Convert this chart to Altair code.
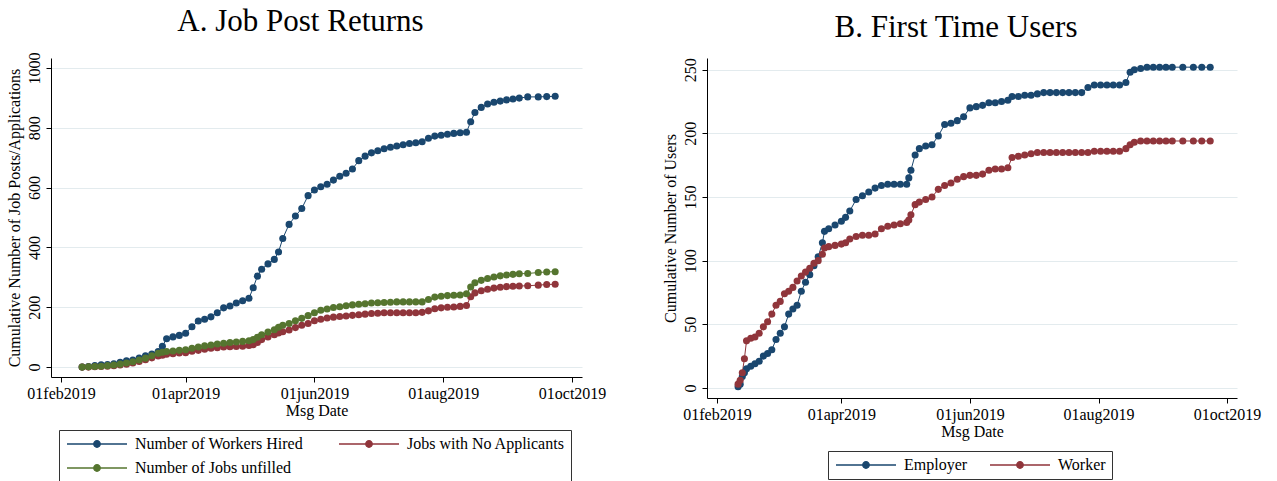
import altair as alt
import pandas as pd

# ---------------- Panel A data ----------------
left_dates = [
    "2019-02-11", "2019-02-14", "2019-02-17", "2019-02-20", "2019-02-23", "2019-02-26",
    "2019-03-01", "2019-03-04", "2019-03-07", "2019-03-10", "2019-03-13", "2019-03-16",
    "2019-03-19", "2019-03-21", "2019-03-23", "2019-03-26", "2019-03-29", "2019-04-01",
    "2019-04-04", "2019-04-07", "2019-04-10", "2019-04-13", "2019-04-16", "2019-04-19",
    "2019-04-22", "2019-04-25", "2019-04-28", "2019-05-01", "2019-05-03", "2019-05-05",
    "2019-05-07", "2019-05-10", "2019-05-13", "2019-05-15", "2019-05-17", "2019-05-20",
    "2019-05-23", "2019-05-26", "2019-05-29", "2019-06-01", "2019-06-04", "2019-06-07",
    "2019-06-10", "2019-06-13", "2019-06-16", "2019-06-19", "2019-06-22", "2019-06-25",
    "2019-06-28", "2019-07-01", "2019-07-04", "2019-07-07", "2019-07-10", "2019-07-13",
    "2019-07-16", "2019-07-19", "2019-07-22", "2019-07-25", "2019-07-28", "2019-07-31",
    "2019-08-03", "2019-08-06", "2019-08-09", "2019-08-12", "2019-08-14", "2019-08-16",
    "2019-08-19", "2019-08-22", "2019-08-25", "2019-08-28", "2019-08-31", "2019-09-03",
    "2019-09-06", "2019-09-10", "2019-09-15", "2019-09-19", "2019-09-23",
]
workers_hired = [
    0, 2, 5, 8, 9, 11,
    16, 21, 24, 30, 38, 44,
    52, 70, 95, 101, 106, 113,
    135, 154, 160, 168, 182, 198,
    204, 214, 222, 230, 265, 304,
    327, 345, 360, 385, 430, 477,
    505, 530, 573, 592, 603, 611,
    625, 638, 648, 662, 690, 705,
    716, 723, 730, 735, 739, 743,
    747, 750, 753, 765, 772, 775,
    778, 781, 783, 785, 820, 851,
    868, 879, 885, 889, 893, 896,
    899, 903, 903, 904, 905,
]
jobs_no_applicants = [
    0, 0, 1, 2, 3, 5,
    7, 10, 14, 19, 25, 31,
    37, 40, 43, 45, 47, 48,
    53, 56, 60, 63, 65, 67,
    68, 69, 70, 72, 75, 82,
    92, 101, 108, 114, 118, 124,
    132, 140, 146, 155, 160, 164,
    167, 169, 171, 173, 175, 177,
    179, 180, 182, 182, 182, 182,
    182, 182, 183, 188, 195, 198,
    200, 201, 203, 206, 235, 248,
    255, 260, 264, 267, 269, 270,
    271, 272, 274, 276, 277,
]
jobs_unfilled = [
    0, 1, 2, 3, 5, 7,
    10, 14, 18, 24, 30, 38,
    46, 50, 52, 54, 56, 58,
    63, 67, 71, 74, 77, 80,
    82, 84, 86, 88, 92, 100,
    108, 117, 125, 133, 140, 146,
    155, 163, 172, 182, 190, 194,
    199, 202, 205, 208, 210, 212,
    214, 215, 216, 217, 218, 218,
    218, 218, 218, 226, 234, 237,
    239, 240, 241, 245, 268, 282,
    290, 296, 301, 305, 308, 310,
    312, 313, 316, 318, 319,
]
left_names = ["Number of Workers Hired", "Jobs with No Applicants", "Number of Jobs unfilled"]
left_colors = ["#1a476f", "#90353b", "#55752f"]

# ---------------- Panel B data ----------------
right_dates = [
    "2019-02-11", "2019-02-12", "2019-02-13", "2019-02-14", "2019-02-15", "2019-02-17",
    "2019-02-19", "2019-02-21", "2019-02-23", "2019-02-25", "2019-02-27", "2019-03-01",
    "2019-03-03", "2019-03-05", "2019-03-07", "2019-03-09", "2019-03-11", "2019-03-13",
    "2019-03-15", "2019-03-17", "2019-03-19", "2019-03-21", "2019-03-23", "2019-03-24",
    "2019-03-26", "2019-03-29", "2019-04-01", "2019-04-03", "2019-04-05", "2019-04-08",
    "2019-04-11", "2019-04-14", "2019-04-17", "2019-04-20", "2019-04-23", "2019-04-26",
    "2019-04-29", "2019-05-02", "2019-05-03", "2019-05-04", "2019-05-06", "2019-05-08",
    "2019-05-11", "2019-05-14", "2019-05-17", "2019-05-20", "2019-05-23", "2019-05-26",
    "2019-05-29", "2019-06-01", "2019-06-04", "2019-06-07", "2019-06-10", "2019-06-13",
    "2019-06-16", "2019-06-19", "2019-06-21", "2019-06-24", "2019-06-27", "2019-06-30",
    "2019-07-03", "2019-07-06", "2019-07-09", "2019-07-12", "2019-07-15", "2019-07-18",
    "2019-07-21", "2019-07-24", "2019-07-27", "2019-07-30", "2019-08-02", "2019-08-05",
    "2019-08-08", "2019-08-11", "2019-08-14", "2019-08-16", "2019-08-18", "2019-08-21",
    "2019-08-24", "2019-08-27", "2019-08-30", "2019-09-02", "2019-09-05", "2019-09-10",
    "2019-09-15", "2019-09-19", "2019-09-23",
]
employer = [
    1, 3, 9, 12, 15, 17,
    19, 21, 25, 27, 30, 38,
    43, 48, 58, 62, 65, 76,
    83, 89, 96, 103, 114, 123,
    125, 128, 131, 134, 139, 148,
    151, 154, 157, 159, 160, 160,
    160, 160, 165, 171, 183, 188,
    190, 191, 198, 207, 208, 210,
    213, 220, 221, 222, 224, 224,
    225, 226, 229, 229, 230, 230,
    231, 232, 232, 232, 232, 232,
    232, 232, 236, 238, 238, 238,
    238, 238, 240, 248, 250, 251,
    252, 252, 252, 252, 252, 252,
    252, 252, 252,
]
worker = [
    3, 6, 12, 23, 37, 39,
    40, 43, 48, 52, 58, 65,
    68, 74, 76, 79, 84, 88,
    91, 94, 98, 100, 105, 110,
    111, 112, 113, 114, 117, 119,
    120, 120, 121, 125, 127, 128,
    129, 130, 132, 136, 144, 146,
    148, 150, 156, 159, 161, 164,
    166, 167, 167, 168, 171, 172,
    172, 173, 181, 182, 183, 184,
    185, 185, 185, 185, 185, 185,
    185, 185, 185, 186, 186, 186,
    186, 186, 188, 191, 193, 194,
    194, 194, 194, 194, 194, 194,
    194, 194, 194,
]
right_names = ["Employer", "Worker"]
right_colors = ["#1a476f", "#90353b"]

left_ticks = [0, 200, 400, 600, 800, 1000]
right_ticks = [0, 50, 100, 150, 200, 250]
x_tick_dates = [(2019, 2, 1), (2019, 4, 1), (2019, 6, 1), (2019, 8, 1), (2019, 10, 1)]

FONT = "Liberation Serif"
GRID = "#e3ebee"
LEGEND_SYMBOL = "M-6,0L6,0M-0.65,0A0.65,0.65,0,1,1,0.65,0A0.65,0.65,0,1,1,-0.65,0Z"

# ---------------- build long tables ----------------
left_df = pd.concat([
    pd.DataFrame({"date": left_dates, "value": vals, "series": name})
    for name, vals in zip(left_names, [workers_hired, jobs_no_applicants, jobs_unfilled])
], ignore_index=True)

right_df = pd.concat([
    pd.DataFrame({"date": right_dates, "value": vals, "series": name})
    for name, vals in zip(right_names, [employer, worker])
], ignore_index=True)


def x_enc():
    return alt.X(
        "date:T",
        scale=alt.Scale(
            type="utc",
            domain=[alt.DateTime(year=2019, month=1, date=27, hours=6, utc=True),
                    alt.DateTime(year=2019, month=10, date=5, hours=17, utc=True)],
            nice=False,
        ),
        axis=alt.Axis(
            values=[alt.DateTime(year=y, month=m, date=d, utc=True) for (y, m, d) in x_tick_dates],
            labelExpr="lower(utcFormat(datum.value, '%d%b%Y'))",
            title="Msg Date",
            grid=False,
            tickSize=5,
            labelPadding=3,
            titlePadding=1,
            labelFlush=False,
            labelOverlap=False,
        ),
    )


def y_enc(domain, ticks, title):
    return alt.Y(
        "value:Q",
        scale=alt.Scale(domain=domain, nice=False, zero=False),
        axis=alt.Axis(
            values=ticks,
            format="d",
            title=title,
            grid=True,
            gridColor=GRID,
            gridWidth=1.2,
            tickSize=5,
            labelAngle=270,
            labelAlign="center",
            labelBaseline="bottom",
            labelPadding=4,
            titlePadding=4,
            labelFlush=False,
        ),
    )


def panel(df, names, colors, ydom, yticks, ytitle, title, width, height, lx, ly, colpad):
    color = alt.Color(
        "series:N",
        scale=alt.Scale(domain=names, range=colors),
        sort=names,
        legend=alt.Legend(
            title=None,
            orient="none",
            legendX=lx,
            legendY=ly,
            direction="horizontal",
            columns=2,
            symbolType=LEGEND_SYMBOL,
            symbolSize=100,
            symbolStrokeWidth=1.3,
            symbolOffset=24,
            labelOffset=30,
            labelFont=FONT,
            labelFontSize=16,
            labelColor="black",
            labelLimit=400,
            strokeColor="#333333",
            fillColor="white",
            padding=6,
            rowPadding=8,
            columnPadding=colpad,
        ),
    )
    base = alt.Chart(df)
    line = base.mark_line(strokeWidth=1, clip=True).encode(
        x=x_enc(), y=y_enc(ydom, yticks, ytitle), color=color, order="date:T"
    )
    pts = base.mark_circle(size=50, opacity=1, clip=True).encode(
        x=x_enc(), y=y_enc(ydom, yticks, ytitle), color=color
    )
    return alt.layer(line, pts).properties(
        width=width,
        height=height,
        title=alt.TitleParams(
            title, font=FONT, fontSize=31, fontWeight="normal", color="black",
            anchor="middle", dx=-16, offset=14,
        ),
    )


left = panel(left_df, left_names, left_colors, [-33, 1033], left_ticks,
             "Cumulative Number of Job Posts/Applications", "A. Job Post Returns",
             531, 319, 8, 372, 33)
right = panel(right_df, right_names, right_colors, [-7.9, 259.2], right_ticks,
              "Cumulative Number of Users", "B. First Time Users",
              530, 340, 121, 393, 19)

chart = (
    alt.hconcat(left, right, spacing=56)
    .resolve_scale(x="independent", y="independent", color="independent")
    .resolve_legend(color="independent")
    .properties(padding={"left": 5, "top": 5, "right": 5, "bottom": 0}, background="white")
    .configure_view(stroke=None)
    .configure_axis(
        labelFont=FONT, labelFontSize=16, labelColor="black",
        titleFont=FONT, titleFontSize=16, titleFontWeight="normal", titleColor="black",
        domainColor="black", tickColor="black", domainWidth=1, tickWidth=1,
    )
)

chart.save("out.html", embed_options={"renderer": "svg", "actions": False})
